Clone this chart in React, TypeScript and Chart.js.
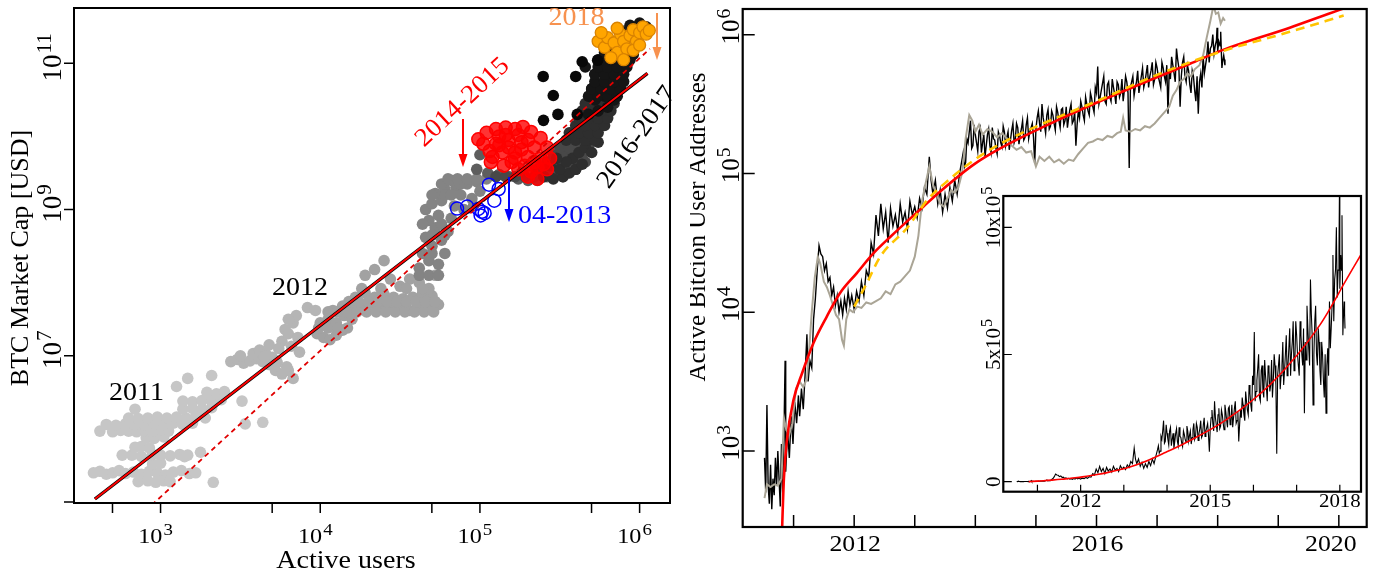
import React, { useEffect, useRef } from "react";
import { Chart, registerables } from "chart.js";
Chart.register(...registerables);

const FONT = '"Liberation Serif", "DejaVu Serif", serif';

// ================= LEFT PANEL: BTC market cap vs active users =================
// [active users, market cap in USD]
const era2011 = [
  [380, 2.51e5], [417, 2.63e5], [457, 2.4e5], [501, 2.51e5], [550, 2.69e5], [603, 2.45e5], [676, 2.57e5], [759, 2.4e5],
  [851, 2.63e5], [955, 2.51e5], [1072, 2.34e5], [1202, 2.57e5], [1349, 2.69e5], [1514, 2.45e5], [1660, 2.51e5],
  [724, 1.9e5], [832, 1.95e5], [933, 1.86e5], [1047, 1.95e5], [1148, 1.9e5], [2138, 1.86e5],
  [891, 3.3e5], [1000, 3.4e5],
  [575, 4.37e5], [661, 4.37e5], [759, 4.2e5], [891, 4.47e5], [1000, 4.37e5], [1148, 4.27e5], [1318, 4.47e5], [1479, 4.37e5],
  [692, 5.62e5], [759, 5.75e5], [851, 5.5e5],
  [813, 7.59e5], [912, 7.4e5], [1047, 7.76e5],
  [417, 9.33e5], [501, 9.12e5], [562, 9.55e5], [631, 9.33e5], [708, 9.12e5], [794, 9.55e5], [891, 9.33e5], [1000, 9.77e5], [1122, 9.33e5],
  [457, 1.15e6], [525, 1.12e6], [603, 1.17e6], [692, 1.15e6], [794, 1.12e6], [912, 1.17e6], [1047, 1.15e6], [1202, 1.2e6], [1380, 1.15e6], [1585, 1.2e6],
  [631, 1.41e6], [724, 1.38e6], [832, 1.41e6], [955, 1.45e6], [1096, 1.41e6], [1259, 1.45e6], [1445, 1.41e6], [1660, 1.48e6], [1905, 1.41e6],
  [692, 1.86e6], [1380, 1.86e6], [1585, 1.9e6], [1820, 1.86e6], [2089, 1.95e6],
  [1380, 2.4e6], [1585, 2.34e6], [1820, 2.45e6], [2089, 2.4e6], [2399, 2.51e6],
  [1950, 3.16e6], [2239, 3.02e6], [2512, 3.24e6],
  [1259, 3.8e6], [1479, 4.9e6], [2089, 5.37e6], [3236, 2.4e6], [3388, 1.17e6], [4365, 1.23e6], [1778, 4.79e5], [1413, 4.17e5],
];
const era2012 = [
  [2754, 8.32e6], [3020, 8.91e6], [3311, 7.94e6], [3631, 8.51e6], [3981, 9.12e6], [4365, 8.32e6], [4786, 7.59e6],
  [5248, 6.31e6], [5754, 5.62e6], [6310, 6.31e6], [3802, 1.07e7], [4169, 1.2e7], [4571, 1.05e7], [5012, 9.55e6],
  [6761, 4.9e6], [7413, 1.12e7], [6166, 7.08e6], [5754, 1.58e7], [6026, 2.29e7], [6310, 2.0e7], [6761, 2.82e7],
  [7079, 3.55e7], [6310, 3.16e7], [8318, 4.57e7], [9333, 4.17e7], [5495, 1.26e7], [4786, 1.41e7],
  [3162, 1.0e7], [4467, 9.77e6], [5370, 8.13e6], [6607, 1.35e7], [7244, 1.78e7],
];
const era2012b = [
  [9550, 2.0e7], [1.05e4, 1.78e7], [1.15e4, 1.66e7], [1.26e4, 1.91e7], [1.38e4, 2.24e7], [1.0e4, 2.82e7], [1.12e4, 3.16e7],
  [1.26e4, 2.82e7], [1.41e4, 3.55e7], [1.58e4, 3.16e7], [1.2e4, 4.17e7], [1.38e4, 4.79e7], [1.58e4, 4.47e7], [1.82e4, 5.01e7],
  [2.09e4, 5.25e7], [2.4e4, 4.79e7], [2.75e4, 5.01e7], [3.16e4, 4.57e7], [3.63e4, 4.17e7], [4.17e4, 4.57e7], [4.79e4, 5.25e7],
  [5.5e4, 5.01e7], [1.66e4, 6.31e7], [1.91e4, 7.24e7], [2.19e4, 6.31e7], [2.51e4, 6.92e7], [2.88e4, 6.31e7], [3.31e4, 6.03e7],
  [3.8e4, 6.31e7], [4.37e4, 7.08e7], [5.01e4, 6.61e7], [1.91e4, 1.26e8], [2.19e4, 1.51e8], [2.51e4, 2.0e8], [2.75e4, 1.12e8],
  [3.16e4, 8.91e7], [3.63e4, 1.12e8], [4.17e4, 1.0e8], [4.79e4, 8.32e7], [5.25e4, 1.26e8],
  [1.12e4, 3.98e7], [1.29e4, 3.98e7], [1.48e4, 3.98e7], [1.7e4, 3.98e7], [1.95e4, 3.98e7], [2.24e4, 3.98e7], [2.57e4, 3.98e7],
  [2.95e4, 3.98e7], [3.39e4, 3.98e7], [3.89e4, 3.98e7], [4.47e4, 3.98e7], [5.13e4, 3.98e7],
  [1.51e4, 5.5e7], [1.74e4, 5.5e7], [2.0e4, 5.5e7], [2.29e4, 5.5e7], [2.63e4, 5.5e7], [3.02e4, 5.5e7], [3.47e4, 5.5e7],
  [3.98e4, 5.5e7], [4.57e4, 5.5e7], [5.25e4, 5.5e7],
  [9770, 2.4e7], [1.12e4, 2.4e7], [1.29e4, 2.4e7], [1.48e4, 2.4e7],
  [1.82e4, 8.32e7], [2.4e4, 8.32e7], [3.47e4, 8.32e7], [4.37e4, 8.32e7],
];
const era2013 = [
  [4.17e4, 1.58e8], [4.79e4, 2.0e8], [5.5e4, 1.78e8], [6.03e4, 2.51e8], [5.01e4, 3.16e8], [5.75e4, 3.8e8], [4.57e4, 4.17e8],
  [5.25e4, 5.62e8], [6.31e4, 5.01e8], [4.79e4, 7.08e8], [5.5e4, 8.32e8], [6.61e4, 7.59e8], [4.57e4, 1.0e9], [5.01e4, 1.2e9],
  [5.75e4, 1.32e9], [6.92e4, 1.12e9], [7.94e4, 1.0e9], [5.25e4, 1.66e9], [6.03e4, 1.91e9], [7.08e4, 2.0e9], [8.32e4, 2.24e9],
  [9.55e4, 2.4e9], [1.1e5, 2.63e9], [7.59e4, 1.58e9], [8.91e4, 1.41e9], [1.0e5, 1.78e9], [6.61e4, 2.51e9],
  [4.17e4, 1.26e8], [4.79e4, 1.26e8], [5.5e4, 1.26e8], [4.37e4, 2.51e8], [5.01e4, 2.51e8], [5.01e4, 4.47e8], [6.03e4, 4.47e8],
  [4.37e4, 6.31e8], [5.75e4, 6.31e8], [9.12e4, 1.12e9], [5.01e4, 1.58e9], [6.03e4, 1.58e9], [6.61e4, 1.58e9],
  [5.75e4, 2.24e9], [7.59e4, 2.24e9], [6.31e4, 2.63e9], [7.24e4, 2.63e9], [8.32e4, 2.63e9], [9.55e4, 2.63e9],
];
const era2014 = [
  [9.55e4, 3.55e9], [1.12e5, 3.16e9], [1.32e5, 3.02e9], [1.51e5, 2.82e9], [1.74e5, 2.63e9], [2.0e5, 2.51e9], [2.29e5, 2.51e9],
  [2.63e5, 2.82e9], [1.0e5, 5.62e9], [2.88e5, 3.16e9],
];
const era2015 = [
  [1.26e5, 2.82e9], [1.45e5, 2.82e9], [1.66e5, 2.82e9], [1.91e5, 2.82e9], [2.19e5, 2.82e9], [2.51e5, 2.82e9], [2.88e5, 2.82e9], [3.31e5, 2.82e9],
  [2.29e5, 3.55e9], [2.63e5, 3.55e9], [3.02e5, 3.55e9], [3.47e5, 3.55e9], [3.98e5, 3.55e9],
  [2.63e5, 4.47e9], [3.02e5, 4.47e9], [3.47e5, 4.47e9], [3.98e5, 4.47e9], [4.57e5, 4.47e9],
  [2.88e5, 5.62e9], [3.31e5, 5.62e9], [3.8e5, 5.62e9], [4.37e5, 5.62e9],
  [3.16e5, 7.08e9], [3.63e5, 7.08e9], [4.17e5, 7.08e9], [4.79e5, 7.08e9],
];
const era2016 = [
  [2.51e5, 2.82e9], [2.88e5, 2.63e9], [3.31e5, 2.82e9], [3.63e5, 3.16e9], [3.98e5, 3.55e9], [4.37e5, 4.17e9], [3.16e5, 3.55e9],
  [2.75e5, 3.98e9], [3.8e5, 5.01e9], [4.17e5, 6.03e9], [4.57e5, 7.08e9], [5.01e5, 6.03e9], [3.47e5, 4.47e9], [3.02e5, 5.01e9],
  [4.79e5, 8.91e9], [5.25e5, 1.12e10], [4.37e5, 1.0e10], [5.01e5, 1.41e10], [5.75e5, 1.58e10], [5.5e5, 8.32e9],
  [3.47e5, 8.91e9], [3.98e5, 8.91e9], [4.57e5, 8.91e9], [5.25e5, 8.91e9],
  [3.63e5, 1.12e10], [4.17e5, 1.12e10], [4.79e5, 1.12e10], [5.5e5, 1.12e10],
  [3.98e5, 1.41e10], [4.57e5, 1.41e10], [5.25e5, 1.41e10], [6.03e5, 1.41e10],
  [4.17e5, 1.78e10], [4.79e5, 1.78e10], [5.5e5, 1.78e10], [6.31e5, 1.78e10],
  [4.37e5, 2.24e10], [5.01e5, 2.24e10], [5.75e5, 2.24e10], [6.61e5, 2.24e10],
  [4.57e5, 2.82e10], [5.25e5, 2.82e10], [6.03e5, 2.82e10], [6.92e5, 2.82e10],
];
const era2017 = [
  [4.79e5, 2.0e10], [5.5e5, 2.24e10], [6.31e5, 2.51e10], [5.25e5, 3.16e10], [6.03e5, 3.55e10], [6.92e5, 3.16e10], [5.01e5, 4.47e10],
  [5.75e5, 5.25e10], [6.61e5, 6.03e10], [7.59e5, 5.01e10], [5.25e5, 7.08e10], [6.03e5, 8.32e10], [6.92e5, 9.55e10], [7.94e5, 7.94e10],
  [5.5e5, 1.12e11], [6.31e5, 1.32e11], [7.24e5, 1.41e11], [8.32e5, 1.12e11], [9.12e5, 1.32e11], [4.57e5, 8.91e10],
  [7.59e5, 2.82e11], [8.71e5, 3.31e11], [1.0e6, 3.55e11], [1.1e6, 3.16e11],
  [4.79e5, 3.55e10], [5.5e5, 3.55e10], [6.31e5, 3.55e10], [7.24e5, 3.55e10],
  [5.01e5, 4.47e10], [5.75e5, 4.47e10], [6.61e5, 4.47e10], [7.59e5, 4.47e10],
  [5.25e5, 5.62e10], [6.03e5, 5.62e10], [6.92e5, 5.62e10], [7.94e5, 5.62e10],
  [5.25e5, 7.08e10], [6.03e5, 7.08e10], [6.92e5, 7.08e10], [7.94e5, 7.08e10],
  [5.5e5, 8.91e10], [6.31e5, 8.91e10], [7.24e5, 8.91e10], [8.32e5, 8.91e10],
  [5.75e5, 1.12e11], [6.61e5, 1.12e11], [7.59e5, 1.12e11], [8.71e5, 1.12e11],
  [6.03e5, 1.41e11], [6.92e5, 1.41e11], [7.94e5, 1.41e11], [9.12e5, 1.41e11],
];
const eraOutliers = [
  [2.49e5, 6.61e10], [2.88e5, 3.63e10], [3.08e5, 2.0e10], [2.5e5, 1.66e10], [4.37e5, 1.05e11], [3.98e5, 6.61e10], [4.07e5, 2.0e10], [5.46e5, 1.1e11],
];
const highlight2014_2015 = [
  [9.77e4, 9.12e9], [1.1e5, 1.12e10], [1.26e5, 1.26e10], [1.45e5, 1.32e10], [1.66e5, 1.26e10], [1.86e5, 1.35e10], [2.09e5, 1.15e10],
  [2.4e5, 9.55e9], [2.63e5, 7.08e9], [2.75e5, 5.01e9], [2.63e5, 3.55e9], [2.29e5, 2.63e9], [2.0e5, 2.82e9], [1.74e5, 3.55e9],
  [1.41e5, 3.98e9], [1.17e5, 4.47e9], [1.15e5, 6.31e9], [1.05e5, 7.94e9], [1.26e5, 7.94e9], [1.51e5, 8.91e9], [1.82e5, 8.32e9],
  [2.19e5, 7.08e9], [1.38e5, 6.03e9], [1.66e5, 6.03e9], [2.0e5, 5.25e9], [2.4e5, 5.01e9], [1.58e5, 4.47e9], [1.91e5, 3.98e9],
  [2.29e5, 3.8e9], [1.32e5, 1.0e10], [1.74e5, 1.05e10], [1.2e5, 5.25e9], [2.51e5, 4.17e9], [2.09e5, 3.31e9],
  [1.51e5, 7.08e9], [1.82e5, 6.61e9], [1.32e5, 7.59e9], [1.66e5, 5.01e9], [2.0e5, 8.91e9], [1.45e5, 1.05e10], [2.19e5, 4.47e9],
];
const highlight04_2013 = [
  [7.19e4, 1.03e9], [8.32e4, 1.1e9], [9.77e4, 1.02e9], [1.01e5, 8.32e8], [1.03e5, 9.33e8], [1.14e5, 2.19e9], [1.31e5, 1.91e9],
  [1.23e5, 1.32e9], [1.07e5, 8.9e8],
];
const highlight2018 = [
  [5.5e5, 2.0e11], [6.03e5, 1.66e11], [6.31e5, 2.24e11], [6.92e5, 1.91e11], [7.24e5, 1.41e11], [7.59e5, 2.51e11], [7.94e5, 2.0e11],
  [8.32e5, 1.58e11], [8.71e5, 2.4e11], [9.12e5, 2.88e11], [9.55e5, 2.0e11], [1.0e6, 2.63e11], [1.05e6, 3.16e11], [1.1e6, 2.51e11],
  [1.15e6, 2.82e11], [6.61e5, 1.2e11], [7.94e5, 1.12e11], [9.12e5, 1.51e11], [1.0e6, 1.78e11], [5.75e5, 2.63e11], [7.24e5, 3.02e11],
];
const fitSolid = [[388, 1.1e5], [1.12e6, 7.3e10]];
const fitDashed = [[800, 7.5e4], [1.16e6, 1.58e11]];

const leftXTicks = [500, 1e3, 5e3, 1e4, 5e4, 1e5, 5e5, 1e6];
const leftXLabels = [1e3, 1e4, 1e5, 1e6];
const leftYTicks = [1e5, 1e7, 1e9, 1e11];
const leftYLabels = [1e7, 1e9, 1e11];

// ================= RIGHT PANEL: active addresses over time =================
// [year, active addresses]
const activeAddresses = [
  [2010.52, 891], [2010.54, 501], [2010.56, 2138], [2010.58, 562], [2010.6, 417], [2010.62, 794], [2010.64, 380], [2010.66, 631],
  [2010.68, 479], [2010.7, 891], [2010.72, 562], [2010.74, 1000], [2010.76, 631], [2010.78, 398], [2010.8, 1122], [2010.82, 501],
  [2010.84, 1259], [2010.86, 4467], [2010.87, 708], [2010.9, 1413], [2010.93, 891], [2010.96, 1778], [2010.99, 1122], [2011.02, 2239],
  [2011.05, 1585], [2011.08, 2512], [2011.1, 1778], [2011.13, 2818], [2011.16, 1995], [2011.19, 3548], [2011.22, 6918], [2011.24, 3162],
  [2011.27, 4467], [2011.3, 3981], [2011.33, 8913], [2011.36, 12590], [2011.39, 19950], [2011.42, 30200], [2011.45, 26300],
  [2011.48, 25120], [2011.51, 19950], [2011.54, 22390], [2011.57, 16600], [2011.6, 17780], [2011.63, 13180], [2011.66, 15140],
  [2011.69, 11220], [2011.72, 13180], [2011.75, 10000], [2011.78, 12020], [2011.81, 9550], [2011.84, 12590], [2011.87, 10470],
  [2011.9, 14130], [2011.93, 11220], [2011.96, 13180], [2012.0, 10470], [2012.04, 14130], [2012.08, 12020], [2012.12, 16600],
  [2012.16, 13180], [2012.2, 19950], [2012.24, 17780], [2012.28, 31620], [2012.32, 26300], [2012.36, 50120], [2012.4, 35480],
  [2012.44, 60260], [2012.48, 39810], [2012.52, 52480], [2012.56, 31620], [2012.6, 56230], [2012.64, 41690], [2012.68, 50120],
  [2012.72, 38020], [2012.76, 60260], [2012.8, 44670], [2012.84, 52480], [2012.88, 39810], [2012.92, 63100], [2012.96, 50120],
  [2013.0, 57540], [2013.04, 47860], [2013.08, 66070], [2013.12, 56230], [2013.16, 79430], [2013.2, 70790], [2013.24, 131800],
  [2013.27, 89130], [2013.3, 70790], [2013.34, 89130], [2013.38, 60260], [2013.42, 75860], [2013.46, 52480], [2013.5, 70790],
  [2013.54, 56230], [2013.58, 79430], [2013.62, 63100], [2013.66, 89130], [2013.7, 70790], [2013.74, 100000], [2013.78, 125900],
  [2013.82, 112200], [2013.86, 177800], [2013.9, 199500], [2013.94, 151400], [2013.98, 223900], [2014.02, 166000], [2014.06, 199500],
  [2014.1, 141300], [2014.14, 190500], [2014.18, 158500], [2014.22, 208900], [2014.26, 141300], [2014.3, 177800], [2014.34, 151400],
  [2014.38, 199500], [2014.42, 166000], [2014.46, 218800], [2014.5, 158500], [2014.54, 199500], [2014.58, 173800], [2014.62, 229100],
  [2014.66, 177800], [2014.7, 213800], [2014.74, 190500], [2014.78, 239900], [2014.82, 182000], [2014.86, 251200], [2014.9, 199500],
  [2014.94, 229100], [2014.98, 117500], [2015.02, 251200], [2015.06, 229100], [2015.1, 316200], [2015.14, 223900], [2015.18, 263000],
  [2015.22, 208900], [2015.26, 281800], [2015.3, 229100], [2015.34, 302000], [2015.38, 239900], [2015.42, 288400], [2015.46, 223900],
  [2015.5, 302000], [2015.54, 251200], [2015.58, 316200], [2015.62, 239900], [2015.66, 158500], [2015.7, 281800], [2015.74, 331100],
  [2015.78, 263000], [2015.82, 354800], [2015.86, 281800], [2015.9, 380200], [2015.94, 302000], [2015.98, 416900], [2016.02, 588800],
  [2016.06, 354800], [2016.1, 446700], [2016.14, 331100], [2016.18, 436500], [2016.22, 354800], [2016.26, 478600], [2016.3, 371500],
  [2016.34, 457100], [2016.38, 354800], [2016.42, 478600], [2016.46, 398100], [2016.5, 457100], [2016.54, 109600], [2016.56, 416900],
  [2016.6, 501200], [2016.64, 416900], [2016.68, 549500], [2016.72, 436500], [2016.76, 575400], [2016.8, 457100], [2016.84, 602600],
  [2016.88, 501200], [2016.92, 631000], [2016.96, 478600], [2017.0, 575400], [2017.04, 457100], [2017.08, 631000], [2017.12, 501200],
  [2017.16, 602600], [2017.18, 269200], [2017.2, 549500], [2017.24, 691800], [2017.28, 524800], [2017.32, 794300], [2017.36, 575400],
  [2017.38, 302000], [2017.42, 631000], [2017.46, 501200], [2017.5, 602600], [2017.54, 436500], [2017.58, 549500], [2017.62, 398100],
  [2017.66, 501200], [2017.68, 269200], [2017.72, 524800], [2017.76, 707900], [2017.8, 602600], [2017.84, 891300], [2017.88, 794300],
  [2017.92, 1000000], [2017.96, 831800], [2017.99, 1122000], [2018.02, 891300], [2018.05, 1047000], [2018.08, 631000],
  [2018.1, 707900], [2018.12, 602600],
];
// additional daily readings between the ones above (2013.8 - 2018.1)
const activeAddressesDense = [
  [2013.8, 141300], [2013.84, 120200], [2013.88, 166000], [2013.92, 239900], [2013.96, 158500], [2014.0, 190500], [2014.04, 144500],
  [2014.08, 213800], [2014.12, 166000], [2014.16, 131800], [2014.2, 190500], [2014.24, 158500], [2014.28, 213800], [2014.32, 173800],
  [2014.36, 138000], [2014.4, 186200], [2014.44, 154900], [2014.48, 199500], [2014.52, 182000], [2014.56, 147900], [2014.6, 204200],
  [2014.64, 166000], [2014.68, 229100], [2014.72, 162200], [2014.76, 208900], [2014.8, 173800], [2014.84, 223900], [2014.88, 177800],
  [2014.92, 213800], [2014.96, 182000], [2015.0, 208900], [2015.04, 281800], [2015.08, 199500], [2015.12, 251200], [2015.16, 195000],
  [2015.2, 288400], [2015.24, 218800], [2015.28, 263000], [2015.32, 204200], [2015.36, 275400], [2015.4, 213800], [2015.44, 295100],
  [2015.48, 239900], [2015.52, 213800], [2015.56, 288400], [2015.6, 229100], [2015.64, 275400], [2015.68, 223900], [2015.72, 251200],
  [2015.76, 302000], [2015.8, 239900], [2015.84, 316200], [2015.88, 263000], [2015.92, 346700], [2015.96, 275400], [2016.0, 380200],
  [2016.04, 316200], [2016.08, 398100], [2016.12, 501200], [2016.16, 316200], [2016.2, 457100], [2016.24, 331100], [2016.28, 416900],
  [2016.32, 316200], [2016.36, 436500], [2016.4, 380200], [2016.44, 331100], [2016.48, 501200], [2016.52, 380200], [2016.58, 457100],
  [2016.62, 363100], [2016.66, 457100], [2016.7, 380200], [2016.74, 501200], [2016.78, 416900], [2016.82, 524800], [2016.86, 416900],
  [2016.9, 549500], [2016.94, 436500], [2016.98, 631000], [2017.02, 501200], [2017.06, 416900], [2017.1, 575400], [2017.14, 457100],
  [2017.22, 478600], [2017.26, 602600], [2017.3, 457100], [2017.34, 660700], [2017.4, 501200], [2017.44, 691800], [2017.48, 457100],
  [2017.52, 549500], [2017.56, 380200], [2017.6, 501200], [2017.64, 331100], [2017.7, 457100], [2017.74, 416900], [2017.78, 524800],
  [2017.82, 691800], [2017.86, 631000], [2017.9, 831800], [2017.94, 724400], [2017.98, 912000], [2018.0, 758600], [2018.04, 831800],
  [2018.07, 575400], [2018.11, 660700],
];
const greySeries = [
  [2010.52, 457], [2010.56, 575], [2010.62, 550], [2010.68, 575], [2010.74, 562], [2010.8, 631], [2010.84, 1738], [2010.88, 1413],
  [2010.93, 1318], [2010.98, 1585], [2011.04, 2818], [2011.1, 3162], [2011.16, 2884], [2011.22, 3311], [2011.26, 5623], [2011.3, 10000],
  [2011.35, 17780], [2011.4, 25120], [2011.44, 22390], [2011.5, 16600], [2011.55, 15140], [2011.6, 13180], [2011.65, 11220],
  [2011.7, 9550], [2011.75, 8913], [2011.8, 6310], [2011.83, 5754], [2011.87, 8913], [2011.92, 10470], [2011.98, 10000],
  [2012.05, 10960], [2012.12, 10720], [2012.2, 11750], [2012.28, 11480], [2012.36, 12020], [2012.44, 12590], [2012.52, 14130],
  [2012.6, 13490], [2012.68, 15850], [2012.76, 16600], [2012.84, 18200], [2012.92, 19950], [2013.0, 25120], [2013.06, 35480],
  [2013.12, 63100], [2013.18, 85110], [2013.24, 112200], [2013.3, 83180], [2013.36, 70790], [2013.42, 60260], [2013.48, 57540],
  [2013.54, 66070], [2013.6, 75860], [2013.66, 72440], [2013.72, 79430], [2013.78, 100000], [2013.84, 177800], [2013.9, 263000],
  [2013.95, 239900], [2014.0, 199500], [2014.06, 223900], [2014.12, 190500], [2014.2, 208900], [2014.28, 199500], [2014.36, 182000],
  [2014.44, 195000], [2014.52, 177800], [2014.6, 158500], [2014.68, 147900], [2014.76, 154900], [2014.84, 141300], [2014.92, 144500],
  [2015.0, 112200], [2015.06, 131800], [2015.14, 123000], [2015.22, 131800], [2015.3, 120200], [2015.38, 125900], [2015.46, 117500],
  [2015.54, 125900], [2015.62, 123000], [2015.7, 138000], [2015.78, 151400], [2015.86, 166000], [2015.94, 169800], [2016.02, 177800],
  [2016.1, 173800], [2016.18, 186200], [2016.26, 182000], [2016.34, 195000], [2016.4, 199500], [2016.44, 251200], [2016.48, 204200],
  [2016.56, 199500], [2016.64, 208900], [2016.72, 204200], [2016.8, 218800], [2016.88, 213800], [2016.96, 229100], [2017.04, 251200],
  [2017.12, 275400], [2017.2, 302000], [2017.26, 363100], [2017.32, 398100], [2017.38, 457100], [2017.44, 478600], [2017.5, 524800],
  [2017.56, 501200], [2017.62, 562300], [2017.7, 602600], [2017.76, 707900], [2017.82, 955000], [2017.88, 1259000], [2017.93, 1622000],
  [2017.97, 1413000], [2018.01, 1445000], [2018.05, 1202000], [2018.09, 1318000], [2018.12, 1259000],
];
const fitRed = [
  [2010.8, 200], [2010.84, 631], [2010.89, 1202], [2011.0, 2344], [2011.14, 3631], [2011.33, 6026], [2011.55, 9333], [2011.77, 13800],
  [2012.04, 19050], [2012.32, 26610], [2012.59, 34670], [2013.14, 57540], [2013.42, 74130], [2013.96, 114800], [2014.41, 151400],
  [2015.34, 239900], [2016.43, 389000], [2017.54, 616600], [2018.09, 776200], [2019.19, 1122000], [2020.09, 1549000], [2020.3, 1660000],
];
const fitYellow = [
  [2012.0, 10960], [2012.21, 16220], [2012.43, 25120], [2012.88, 40740], [2013.21, 64570], [2013.5, 85110], [2013.96, 123000],
  [2014.4, 162200], [2015.07, 223900], [2016.0, 331100], [2017.0, 512900], [2018.0, 741300], [2019.19, 1047000], [2020.08, 1371000],
];
const rightYearTicks = [2011, 2012, 2013, 2014, 2015, 2016, 2017, 2018, 2019, 2020];
const rightYearLabels = [2012, 2016, 2020];
const rightYTicks = [1e3, 1e4, 1e5, 1e6];

const insetYearTicks = [2011, 2012, 2013, 2014, 2015, 2016, 2017, 2018];
const insetYearLabels = [2012, 2015, 2018];
const insetYTicks = [0, 5e5, 1e6];

// ================= helpers =================
const pts = (arr) => arr.map(([x, y]) => ({ x, y }));
const dailySeries = () => [...activeAddresses, ...activeAddressesDense].sort((a, b) => a[0] - b[0]);

function drawText(ctx, s, x, y, size, o: any = {}) {
  ctx.save();
  ctx.translate(x, y);
  if (o.rot) ctx.rotate(o.rot);
  ctx.scale(o.stretch ?? 1, 1);
  ctx.font = `${size}px ${FONT}`;
  ctx.fillStyle = o.color ?? "#000";
  ctx.textAlign = o.align ?? "center";
  ctx.textBaseline = o.baseline ?? "alphabetic";
  ctx.fillText(s, 0, 0);
  ctx.restore();
}

function drawPow(ctx, base, exp, x, y, size, rot = 0, stretch = 1) {
  ctx.save();
  ctx.translate(x, y);
  if (rot) ctx.rotate(rot);
  ctx.scale(stretch, 1);
  ctx.fillStyle = "#000";
  ctx.textAlign = "left";
  ctx.textBaseline = "alphabetic";
  const es = size * 0.78;
  ctx.font = `${size}px ${FONT}`;
  const wb = ctx.measureText(base).width;
  ctx.font = `${es}px ${FONT}`;
  const we = ctx.measureText(exp).width;
  const x0 = -(wb + we + 1) / 2;
  ctx.font = `${size}px ${FONT}`;
  ctx.fillText(base, x0, 0);
  ctx.font = `${es}px ${FONT}`;
  ctx.fillText(exp, x0 + wb + 1, -size * 0.38);
  ctx.restore();
}

function arrowDown(ctx, x, y1, y2, color) {
  ctx.save();
  ctx.strokeStyle = color;
  ctx.fillStyle = color;
  ctx.lineWidth = 2;
  ctx.beginPath();
  ctx.moveTo(x, y1);
  ctx.lineTo(x, y2 - 10);
  ctx.stroke();
  ctx.beginPath();
  ctx.moveTo(x - 4.5, y2 - 13);
  ctx.lineTo(x + 4.5, y2 - 13);
  ctx.lineTo(x, y2);
  ctx.closePath();
  ctx.fill();
  ctx.restore();
}

const expOf = (v) => String(Math.round(Math.log10(v)));

function frame(ctx, a, lw) {
  ctx.save();
  ctx.strokeStyle = "#000";
  ctx.lineWidth = lw;
  ctx.strokeRect(a.left, a.top, a.right - a.left, a.bottom - a.top);
  ctx.restore();
}

// ================= frame plugins =================
const leftDecor = {
  id: "leftDecor",
  afterDraw(chart) {
    const { ctx, chartArea: a } = chart;
    const x = chart.scales.x;
    const y = chart.scales.y;
    frame(ctx, a, 2);
    ctx.save();
    ctx.strokeStyle = "#000";
    ctx.lineWidth = 1.5;
    ctx.beginPath();
    for (const v of leftXTicks) {
      const p = x.getPixelForValue(v);
      ctx.moveTo(p, a.bottom);
      ctx.lineTo(p, a.bottom + 10);
    }
    for (const v of leftYTicks) {
      const p = y.getPixelForValue(v);
      ctx.moveTo(a.left, p);
      ctx.lineTo(a.left - 10, p);
    }
    ctx.stroke();
    ctx.restore();
    for (const v of leftXLabels) drawPow(ctx, "10", expOf(v), x.getPixelForValue(v) - 5, 543, 22, 0, 1.1);
    for (const v of leftYLabels) drawPow(ctx, "10", expOf(v), 61, y.getPixelForValue(v) - 6, 27, -Math.PI / 2, 1);
    drawText(ctx, "Active users", 346, 568, 26, { stretch: 1.08 });
    drawText(ctx, "BTC Market Cap [USD]", 28, 258, 26, { rot: -Math.PI / 2 });
    // annotations
    drawText(ctx, "2011", 136.5, 400, 25, { stretch: 1.12 });
    drawText(ctx, "2012", 300, 295, 25, { stretch: 1.12 });
    drawText(ctx, "2018", 576.5, 25, 25, { stretch: 1.12, color: "#f7924f" });
    drawText(ctx, "04-2013", 518, 223, 25, { stretch: 1.12, color: "#0000ff", align: "left" });
    drawText(ctx, "2014-2015", 462.5, 102.5, 26, { stretch: 1.05, color: "#ff0000", rot: (-43 * Math.PI) / 180, baseline: "middle" });
    drawText(ctx, "2016-2017", 637, 137.5, 26, { stretch: 1.05, color: "#000", rot: (-55 * Math.PI) / 180, baseline: "middle" });
    arrowDown(ctx, 657, 13, 60, "#f7924f");
    arrowDown(ctx, 463, 119, 167, "#ff0000");
    arrowDown(ctx, 509, 177, 222, "#0000ff");
  },
};

const rightDecor = {
  id: "rightDecor",
  afterDraw(chart) {
    const { ctx, chartArea: a } = chart;
    const x = chart.scales.x;
    const y = chart.scales.y;
    frame(ctx, a, 2.2);
    ctx.save();
    ctx.strokeStyle = "#000";
    ctx.lineWidth = 1.5;
    ctx.beginPath();
    for (const v of rightYTicks) {
      const p = y.getPixelForValue(v);
      ctx.moveTo(a.left, p);
      ctx.lineTo(a.left + 12, p);
    }
    for (const v of rightYearTicks) {
      const p = x.getPixelForValue(v);
      ctx.moveTo(p, a.bottom);
      ctx.lineTo(p, a.bottom - 12);
    }
    ctx.stroke();
    ctx.restore();
    for (const v of rightYTicks) drawPow(ctx, "10", expOf(v), 49, y.getPixelForValue(v) - 8, 25, -Math.PI / 2, 1);
    for (const v of rightYearLabels) {
      const off = v === 2020 ? -8 : 1;
      drawText(ctx, String(v), x.getPixelForValue(v) + off, 551, 23, { stretch: 1.12 });
    }
    drawText(ctx, "Active Bitcion User Addresses", 15, 227, 25, { rot: -Math.PI / 2 });
  },
};

const insetDecor = {
  id: "insetDecor",
  beforeDraw(chart) {
    const { ctx, chartArea: a } = chart;
    ctx.save();
    ctx.fillStyle = "#fff";
    ctx.fillRect(a.left, a.top, a.right - a.left, a.bottom - a.top);
    ctx.restore();
  },
  afterDraw(chart) {
    const { ctx, chartArea: a } = chart;
    const x = chart.scales.x;
    const y = chart.scales.y;
    frame(ctx, a, 2.2);
    ctx.save();
    ctx.strokeStyle = "#000";
    ctx.lineWidth = 1.2;
    ctx.beginPath();
    for (const v of insetYTicks) {
      const p = y.getPixelForValue(v);
      ctx.moveTo(a.left, p);
      ctx.lineTo(a.left + 8.5, p);
    }
    for (const v of insetYearTicks) {
      const p = x.getPixelForValue(v);
      ctx.moveTo(p, a.bottom);
      ctx.lineTo(p, a.bottom - 7);
    }
    ctx.stroke();
    ctx.restore();
    const p0 = y.getPixelForValue(insetYTicks[0]);
    drawText(ctx, "0", 50, p0, 21, { rot: -Math.PI / 2 });
    drawPow(ctx, "5x10", "5", 50, y.getPixelForValue(insetYTicks[1]) - 10, 21, -Math.PI / 2, 1);
    drawPow(ctx, "10x10", "5", 50, y.getPixelForValue(insetYTicks[2]) - 10, 21, -Math.PI / 2, 1);
    for (const v of insetYearLabels) drawText(ctx, String(v), x.getPixelForValue(v), 327, 19, { stretch: 1.1 });
  },
};

// ================= configs =================
const greyDs = (data, color) => ({
  data: pts(data),
  pointRadius: 5.8,
  pointBackgroundColor: color,
  pointBorderWidth: 0,
  pointBorderColor: color,
  showLine: false,
});

function leftConfig(): any {
  return {
    type: "scatter",
    data: {
      datasets: [
        { data: pts(fitSolid), showLine: true, borderColor: "#ff0000", borderWidth: 2, pointRadius: 0 },
        { data: pts(fitSolid), showLine: true, borderColor: "#000000", borderWidth: 3.4, pointRadius: 0 },
        { data: pts(fitDashed), showLine: true, borderColor: "#e00000", borderWidth: 1.8, borderDash: [5, 4], pointRadius: 0 },
        {
          data: pts(highlight2018), showLine: false, pointRadius: 6,
          pointBackgroundColor: "#ffa500", pointBorderColor: "#d98300", pointBorderWidth: 1.3,
        },
        {
          data: pts(highlight04_2013), showLine: false, pointRadius: 6.5,
          pointBackgroundColor: "rgba(0,0,0,0)", pointBorderColor: "#0000ff", pointBorderWidth: 1.5,
        },
        {
          data: pts(highlight2014_2015), showLine: false, pointRadius: 6.5,
          pointBackgroundColor: "rgba(255,0,0,0.8)", pointBorderColor: "#ff0000", pointBorderWidth: 1.5,
        },
        greyDs(eraOutliers, "#080808"),
        greyDs(era2017, "#151515"),
        greyDs(era2016, "#2e2e2e"),
        greyDs(era2015, "#484848"),
        greyDs(era2014, "#5e5e5e"),
        greyDs(era2013, "#848484"),
        greyDs(era2012b, "#a2a2a2"),
        greyDs(era2012, "#b5b5b5"),
        greyDs(era2011, "#c6c6c6"),
      ],
    },
    options: {
      animation: false,
      responsive: false,
      devicePixelRatio: 1,
      events: [],
      layout: { padding: { left: 74, right: 20, top: 2, bottom: 70 } },
      plugins: { legend: { display: false }, tooltip: { enabled: false } },
      scales: {
        x: { type: "logarithmic", min: 287, max: 1.55e6, display: false },
        y: { type: "logarithmic", min: 9.69e4, max: 5.71e11, display: false },
      },
    },
    plugins: [leftDecor],
  };
}

function rightConfig(): any {
  return {
    type: "scatter",
    data: {
      datasets: [
        { data: pts(fitYellow), showLine: true, borderColor: "#ffc400", borderWidth: 2.6, borderDash: [9, 6], pointRadius: 0, cubicInterpolationMode: "monotone" },
        { data: pts(fitRed), showLine: true, borderColor: "#ff0000", borderWidth: 2.6, pointRadius: 0, cubicInterpolationMode: "monotone" },
        { data: pts(greySeries), showLine: true, borderColor: "#aaa596", borderWidth: 2, pointRadius: 0 },
        { data: pts(dailySeries()), showLine: true, borderColor: "#000000", borderWidth: 1.4, pointRadius: 0 },
      ],
    },
    options: {
      animation: false,
      responsive: false,
      devicePixelRatio: 1,
      events: [],
      layout: { padding: { left: 52.7, right: 13.3, top: 9, bottom: 46 } },
      plugins: { legend: { display: false }, tooltip: { enabled: false } },
      scales: {
        x: { type: "linear", min: 2010.16, max: 2020.46, display: false },
        y: { type: "logarithmic", min: 283, max: 1.53e6, display: false },
      },
    },
    plugins: [rightDecor],
  };
}

function insetConfig(): any {
  return {
    type: "scatter",
    data: {
      datasets: [
        { data: pts(fitRed), showLine: true, borderColor: "#ff0000", borderWidth: 1.6, pointRadius: 0, cubicInterpolationMode: "monotone" },
        { data: pts(dailySeries()), showLine: true, borderColor: "#000000", borderWidth: 1.1, pointRadius: 0 },
      ],
    },
    options: {
      animation: false,
      responsive: false,
      devicePixelRatio: 1,
      events: [],
      layout: { padding: { left: 53.3, right: 9, top: 16, bottom: 28.3 } },
      plugins: { legend: { display: false }, tooltip: { enabled: false } },
      scales: {
        x: { type: "linear", min: 2010.21, max: 2018.49, display: false },
        y: { type: "linear", min: -39300, max: 1123000, display: false },
      },
    },
    plugins: [insetDecor],
  };
}

export default function App() {
  const leftRef = useRef<HTMLCanvasElement>(null);
  const rightRef = useRef<HTMLCanvasElement>(null);
  const insetRef = useRef<HTMLCanvasElement>(null);
  useEffect(() => {
    const charts = [
      new Chart(leftRef.current as HTMLCanvasElement, leftConfig()),
      new Chart(rightRef.current as HTMLCanvasElement, rightConfig()),
      new Chart(insetRef.current as HTMLCanvasElement, insetConfig()),
    ];
    return () => charts.forEach((c) => c.destroy());
  }, []);
  return (
    <div style={{ position: "fixed", left: 0, top: 0, width: 1380, height: 573, background: "#fff", overflow: "hidden" }}>
      <canvas ref={leftRef} width={690} height={573} style={{ position: "absolute", left: 0, top: 0, width: 690, height: 573 }} />
      <canvas ref={rightRef} width={690} height={573} style={{ position: "absolute", left: 690, top: 0, width: 690, height: 573 }} />
      <canvas ref={insetRef} width={420} height={340} style={{ position: "absolute", left: 950, top: 180, width: 420, height: 340 }} />
    </div>
  );
}
